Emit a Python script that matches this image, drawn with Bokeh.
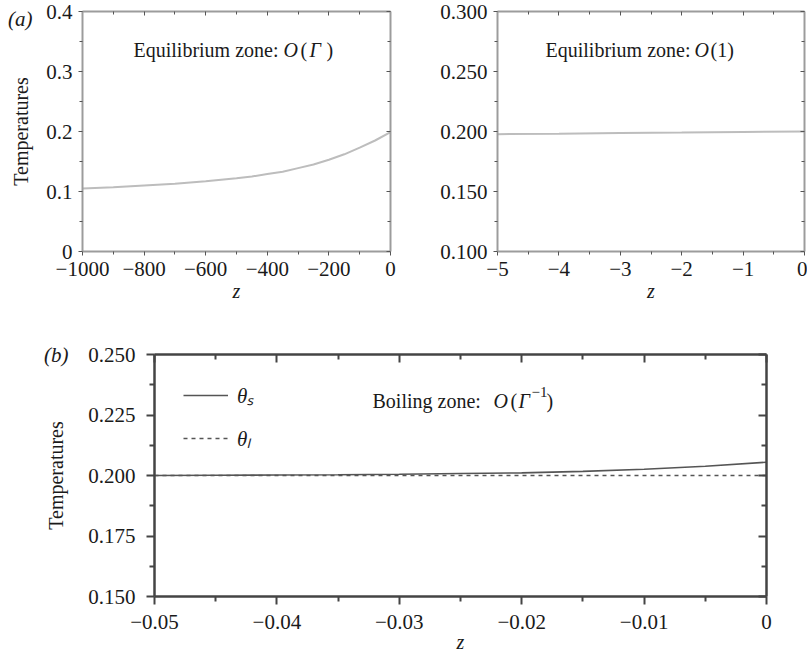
from bokeh.plotting import figure
from bokeh.models import (LinearAxis, Label, Legend, LegendItem, Range1d,
                          FixedTicker, CustomJSTickFormatter)
from bokeh.layouts import column, row
from bokeh.embed import file_html
from bokeh.resources import INLINE

# ---------------- data ----------------
# (a) left: equilibrium zone O(Gamma)
z_a1 = [-1000, -900, -800, -700, -600, -500, -450, -400, -350, -300, -250, -200, -150, -100, -50, 0]
theta_a1 = [0.105, 0.107, 0.110, 0.113, 0.117, 0.122, 0.125, 0.129, 0.133, 0.139, 0.145,
            0.153, 0.162, 0.173, 0.185, 0.199]
# (a) right: equilibrium zone O(1)
z_a2 = [-5, -4, -3, -2, -1, 0]
theta_a2 = [0.1978, 0.1982, 0.1987, 0.1991, 0.1996, 0.2000]
# (b): boiling zone
z_b = [-0.05, -0.045, -0.04, -0.035, -0.03, -0.025, -0.02, -0.015, -0.01, -0.005, 0.0]
theta_s = [0.2000, 0.2001, 0.2002, 0.2003, 0.2005, 0.2008, 0.2011, 0.2017, 0.2026, 0.2038, 0.2055]
theta_l = [0.2000, 0.2000, 0.2000, 0.2000, 0.2000, 0.2000, 0.2000, 0.2000, 0.2000, 0.2000, 0.2000]

# ticks and labels
xt_a1 = [-1000, -800, -600, -400, -200, 0]
xl_a1 = ["\u22121000", "\u2212800", "\u2212600", "\u2212400", "\u2212200", "0"]
xm_a1 = [-900, -700, -500, -300, -100]
yt_a1 = [0, 0.1, 0.2, 0.3, 0.4]
yl_a1 = ["0", "0.1", "0.2", "0.3", "0.4"]
ym_a1 = [0.05, 0.15, 0.25, 0.35]

xt_a2 = [-5, -4, -3, -2, -1, 0]
xl_a2 = ["\u22125", "\u22124", "\u22123", "\u22122", "\u22121", "0"]
xm_a2 = [-4.5, -3.5, -2.5, -1.5, -0.5]
yt_a2 = [0.10, 0.15, 0.20, 0.25, 0.30]
yl_a2 = ["0.100", "0.150", "0.200", "0.250", "0.300"]
ym_a2 = [0.125, 0.175, 0.225, 0.275]

xt_b = [-0.05, -0.04, -0.03, -0.02, -0.01, 0.0]
xl_b = ["\u22120.05", "\u22120.04", "\u22120.03", "\u22120.02", "\u22120.01", "0"]
xm_b = [-0.045, -0.035, -0.025, -0.015, -0.005]
yt_b = [0.150, 0.175, 0.200, 0.225, 0.250]
yl_b = ["0.150", "0.175", "0.200", "0.225", "0.250"]
ym_b = [0.1625, 0.1875, 0.2125, 0.2375]

panel_tags = ["(a)", "(b)"]

SERIF = "Liberation Serif"
FS_TICK = "21px"
FS_AXIS = "20px"
FS_NOTE = "20px"


def fmt(vals, labs):
    return CustomJSTickFormatter(args=dict(vals=vals, labs=labs), code="""
        for (let i = 0; i < vals.length; i++) {
            if (Math.abs(vals[i] - tick) < 1e-9) { return labs[i]; }
        }
        return '';
    """)


def const_fmt(text):
    return CustomJSTickFormatter(args=dict(t=text), code="return t;")


def style(ax, line_color, line_w, tick_color, tick_w, maj, mnr, outward):
    ax.axis_line_color = line_color
    ax.axis_line_width = line_w
    ax.major_tick_line_color = tick_color
    ax.minor_tick_line_color = tick_color
    ax.major_tick_line_width = tick_w
    ax.minor_tick_line_width = tick_w
    if outward:
        ax.major_tick_out, ax.major_tick_in = maj, 0
        ax.minor_tick_out, ax.minor_tick_in = mnr, 0
    else:
        ax.major_tick_out, ax.major_tick_in = 0, maj
        ax.minor_tick_out, ax.minor_tick_in = 0, mnr
    ax.major_label_text_font = SERIF
    ax.major_label_text_font_size = FS_TICK
    ax.major_label_text_color = "#1a1a1a"
    ax.axis_label_text_font = SERIF
    ax.axis_label_text_font_size = FS_AXIS
    ax.axis_label_text_color = "#1a1a1a"


def make_panel(xr, yr, xt, xl, xm, yt, yl, ym, fw, fh, bl, br, bt, bb,
               line_color, line_w, tick_color, tick_w, maj, mnr,
               lab_std_x, lab_std_y, ylabel, ylabel_std, zlabel_std):
    p = figure(frame_width=fw, frame_height=fh, x_range=Range1d(*xr), y_range=Range1d(*yr),
               output_backend="svg", toolbar_location=None,
               min_border_left=bl, min_border_right=br, min_border_top=bt, min_border_bottom=bb)
    p.xgrid.visible = False
    p.ygrid.visible = False
    p.outline_line_color = None
    p.background_fill_color = "white"
    p.border_fill_color = "white"
    xtick = FixedTicker(ticks=xt, minor_ticks=xm)
    ytick = FixedTicker(ticks=yt, minor_ticks=ym)
    xa = p.xaxis[0]
    ya = p.yaxis[0]
    xa.ticker = xtick
    ya.ticker = ytick
    xa.formatter = fmt(xt, xl)
    ya.formatter = fmt(yt, yl)
    style(xa, line_color, line_w, tick_color, tick_w, maj, mnr, True)
    style(ya, line_color, line_w, tick_color, tick_w, maj, mnr, True)
    xa.major_label_standoff = lab_std_x
    ya.major_label_standoff = lab_std_y
    xa.axis_label = "z"
    xa.axis_label_text_font_style = "italic"
    xa.axis_label_standoff = zlabel_std
    if ylabel:
        ya.axis_label = ylabel
        ya.axis_label_text_font_style = "normal"
        ya.axis_label_standoff = ylabel_std
    # mirror axes (ticks pointing inward, no labels)
    top = LinearAxis(ticker=xtick, formatter=const_fmt(""))
    right = LinearAxis(ticker=ytick, formatter=const_fmt(""))
    for ax in (top, right):
        style(ax, line_color, line_w, tick_color, tick_w, maj, mnr, False)
        ax.major_label_text_font_size = "0px"
        ax.major_label_standoff = 0
    p.add_layout(top, "above")
    p.add_layout(right, "right")
    return p


def add_tag(p, yval, text, standoff):
    # panel tag drawn as the single label of an extra, invisible left axis
    ax = LinearAxis(ticker=FixedTicker(ticks=[yval], minor_ticks=[]), formatter=const_fmt(text))
    ax.axis_line_color = None
    ax.major_tick_line_color = None
    ax.minor_tick_line_color = None
    ax.major_tick_in = 0
    ax.major_tick_out = 0
    ax.minor_tick_in = 0
    ax.minor_tick_out = 0
    ax.major_label_standoff = standoff
    ax.major_label_text_font = SERIF
    ax.major_label_text_font_size = FS_TICK
    ax.major_label_text_font_style = "italic"
    ax.major_label_text_color = "#1a1a1a"
    p.add_layout(ax, "left")


def lab(p, x, y, text, style_="normal", size=FS_NOTE):
    p.add_layout(Label(x=x, y=y, x_units="screen", y_units="screen", text=text,
                       text_font=SERIF, text_font_size=size, text_font_style=style_,
                       text_color="#1a1a1a", text_baseline="alphabetic", text_align="left"))


GRAY = "#9c9c9c"
FH_A = 240

# ---------- (a) left ----------
p1 = make_panel((-1000, 0), (0, 0.4), xt_a1, xl_a1, xm_a1, yt_a1, yl_a1, ym_a1,
                308, FH_A, 82, 10, 11, 53, GRAY, 2, "#555555", 1, 4, 3,
                6, 6, "Temperatures", 11, 1)
p1.line(z_a1, theta_a1, line_color="#bdbdbd", line_width=2)
lab(p1, 51, FH_A - 38, "Equilibrium zone:")
lab(p1, 201, FH_A - 38, "O", "italic")
lab(p1, 218, FH_A - 38, "(")
lab(p1, 227, FH_A - 38, "\u0393", "italic")
lab(p1, 244, FH_A - 38, ")")
add_tag(p1, 0.388, panel_tags[0], -25)

# ---------- (a) right ----------
p2 = make_panel((-5, 0), (0.1, 0.3), xt_a2, xl_a2, xm_a2, yt_a2, yl_a2, ym_a2,
                307, FH_A, 97, 3, 11, 53, GRAY, 2, "#555555", 1, 4, 3,
                6, 6, None, 0, 1)
p2.line(z_a2, theta_a2, line_color="#bdbdbd", line_width=2)
lab(p2, 48, FH_A - 38, "Equilibrium zone:")
lab(p2, 197, FH_A - 38, "O", "italic")
lab(p2, 213, FH_A - 38, "(1)")

# ---------- (b) ----------
FH_B = 242
p3 = make_panel((-0.05, 0), (0.15, 0.25), xt_b, xl_b, xm_b, yt_b, yl_b, ym_b,
                612, FH_B, 154, 41, 50, 54, "#444444", 2.5, "#444444", 2, 8, 5,
                10, 11, "Temperatures", 18, -1)
r_s = p3.line(z_b, theta_s, line_color="#555555", line_width=1.6)
r_l = p3.line(z_b, theta_l, line_color="#555555", line_width=1.4, line_dash="4 4")
lab(p3, 218, FH_B - 46, "Boiling zone:")
lab(p3, 339, FH_B - 46, "O", "italic")
lab(p3, 356, FH_B - 46, "(")
lab(p3, 364, FH_B - 46, "\u0393", "italic")
lab(p3, 377, FH_B - 37, "\u22121", "normal", "15px")
lab(p3, 392, FH_B - 46, ")")
add_tag(p3, 0.25, panel_tags[1], -26)

legend = Legend(items=[LegendItem(label="\u03b8\u209b", renderers=[r_s]),
                       LegendItem(label="\u03b8\u2097", renderers=[r_l])],
                location=(29, FH_B - 33 - 65))
legend.margin = 0
legend.padding = 0
legend.glyph_width = 45
legend.glyph_height = 20
legend.label_height = 20
legend.label_standoff = 9
legend.spacing = 15
legend.label_text_font = SERIF
legend.label_text_font_size = FS_TICK
legend.label_text_font_style = "italic"
legend.label_text_color = "#1a1a1a"
legend.background_fill_alpha = 0
legend.border_line_alpha = 0
p3.add_layout(legend)

layout = column(row(p1, p2, spacing=0), p3, spacing=0)

open("out.html", "w").write(file_html(layout, INLINE))
